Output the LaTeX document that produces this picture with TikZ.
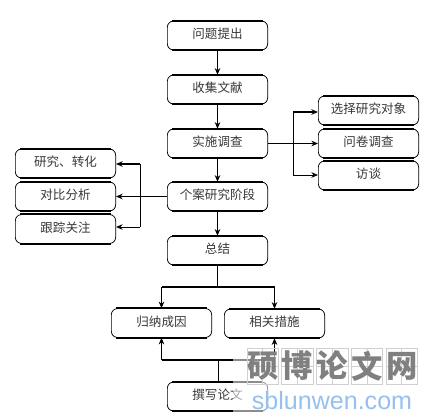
\documentclass[tikz,border=0pt]{standalone}
\usepackage{fontspec}
\setmainfont{Noto Sans CJK SC}
\setsansfont{Liberation Sans}
\usetikzlibrary{arrows.meta}
\definecolor{wmgray}{RGB}{128,128,128}
\definecolor{wmblue}{RGB}{150,192,240}
\definecolor{wmline}{RGB}{208,208,208}
\tikzset{
  x=0.75pt,y=-0.75pt,
  flowbox/.style={draw=black,line width=0.55pt,rounded corners=4.5pt,minimum width=75.2pt,minimum height=21.6pt,inner sep=0pt,fill=white,font=\fontsize{9.4pt}{11pt}\selectfont,text=black!78,text height=7.5pt,text depth=2.5pt},
  flow/.style={draw=black,line width=0.6pt,-{Stealth[length=5pt,width=4.2pt]}},
  heavy/.style={line width=1.3pt},
  plain/.style={draw=black,line width=0.6pt},
  edge/.style={draw=black,line width=1.3pt},
  tile/.style={draw=wmline,line width=0.5pt,minimum width=23.6pt,minimum height=27pt,inner sep=0pt},
  tilecross/.style={draw=wmline,line width=0.4pt}
}
\begin{document}
\begin{tikzpicture}
\useasboundingbox (0,0) rectangle (435,419);
\fill[white] (0,0) rectangle (435,419);
% main column
\node[flowbox] (a) at (217.5,35.5) {问题提出};
\node[flowbox] (b) at (217.5,89.5) {收集文献};
\node[flowbox] (c) at (217.5,143.5) {实施调查};
\node[flowbox] (d) at (217.5,196.5) {个案研究阶段};
\node[flowbox] (e) at (217.5,250.5) {总结};
% right column
\node[flowbox] (r1) at (368.5,110.5) {选择研究对象};
\node[flowbox] (r2) at (368.5,143.5) {问卷调查};
\node[flowbox] (r3) at (368.5,175.5) {访谈};
% left column
\node[flowbox] (l1) at (65.5,163.5) {研究、转化};
\node[flowbox] (l2) at (65.5,196.5) {对比分析};
\node[flowbox] (l3) at (65.5,229) {跟踪关注};
% lower boxes
\node[flowbox] (f) at (161.5,323) {归纳成因};
\node[flowbox] (g) at (274.5,323.5) {相关措施};
\node[flowbox] (h) at (217.5,396.5) {撰写论文};
% heavier horizontal box edges
\foreach \n in {a,b,c,d,e,r1,r2,r3,l1,l2,l3,f,g,h}{
  \draw[edge] ([xshift=4pt]\n.north west) -- ([xshift=-4pt]\n.north east);
  \draw[edge] ([xshift=4pt]\n.south west) -- ([xshift=-4pt]\n.south east);
}
% vertical flow
\draw[flow] (a) -- (b);
\draw[flow] (b) -- (c);
\draw[flow] (c) -- (d);
\draw[flow] (d) -- (e);
% right fan
\coordinate (rtop) at (293,112);
\coordinate (rbot) at (293,175);
\draw[flow] (c) -- (r2);
\draw[plain] (rtop) -- (rbot);
\draw[flow,heavy] (rtop) -- (rtop -| r1.west);
\draw[flow] (rbot) -- (rbot -| r3.west);
% left fan
\coordinate (ltop) at (140,164);
\coordinate (lbot) at (140,227);
\draw[flow,heavy] (d) -- (l2);
\draw[plain] (ltop) -- (lbot);
\draw[flow,heavy] (ltop) -- (ltop -| l1.east);
\draw[flow] (lbot) -- (lbot -| l3.east);
% total to lower boxes
\coordinate (ej) at (217.5,287);
\coordinate (efl) at (161.5,287);
\coordinate (egr) at (274.5,287);
\draw[plain] (e) -- (ej);
\draw[edge] (efl) -- (egr);
\draw[flow] (efl) -- (f.north);
\draw[flow] (egr) -- (g.north);
% write to lower boxes
\coordinate (hj) at (218.5,360);
\coordinate (hfl) at (161.5,360);
\coordinate (hgr) at (274.5,360);
\draw[plain] (h.north -| hj) -- (hj);
\draw[edge] (hfl) -- (hgr);
\draw[flow] (hfl) -- (f.south);
\draw[flow] (hgr) -- (g.south);
% watermark veil
\fill[white,opacity=0.55] (233,352) rectangle (435,419);
% watermark tiles
\foreach \ch [count=\i from 0] in {硕,博,论,文,网}{
  \node[tile] (t\i) at ({262.75+\i*34.75},366) {};
  \draw[tilecross] (t\i.north) -- (t\i.south);
  \draw[tilecross] (t\i.west) -- (t\i.east);
  \node[inner sep=0pt,text=wmgray,font=\fontsize{23.5pt}{26pt}\selectfont\bfseries] (c\i) at (t\i) {\ch};
}
\node[inner sep=0pt,text=wmblue,font=\sffamily\fontsize{18.8pt}{20pt}\selectfont] (url) at (332,400.5) {sblunwen.com};
\end{tikzpicture}
\end{document}
